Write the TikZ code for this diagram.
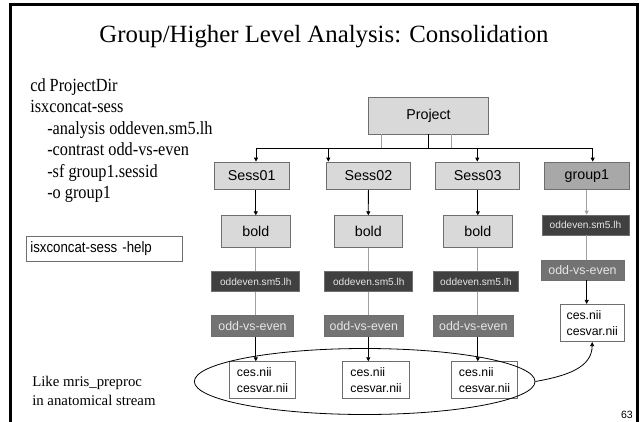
\documentclass[tikz,border=0pt]{standalone}
\usepackage{fontspec}
\setmainfont{Liberation Serif}
\setsansfont{Liberation Sans}
\newfontfamily\narrowserif[FakeStretch=0.88]{Liberation Serif}
\newfontfamily\narrowsans[FakeStretch=0.88]{Liberation Sans}
\usetikzlibrary{arrows.meta,calc,shapes.geometric}
\definecolor{boxlight}{HTML}{D9D9D9}
\definecolor{boxmid}{HTML}{A8A8A8}
\definecolor{boxdark}{HTML}{404040}
\definecolor{boxslate}{HTML}{737373}
\definecolor{edgegray}{HTML}{6E6E6E}
\definecolor{linkgray}{HTML}{A0A0A0}
\definecolor{labellight}{HTML}{E6E6E6}
\begin{document}
\begin{tikzpicture}[x=0.75pt,y=-0.75pt,
  box/.style={draw=edgegray, line width=0.6pt, inner sep=0pt, font=\sffamily},
  lightbox/.style={box, fill=boxlight, font=\sffamily\fontsize{10.7}{12}\selectfont},
  groupbox/.style={box, fill=boxmid, font=\sffamily\fontsize{10.7}{12}\selectfont},
  anabox/.style={box, fill=boxdark, text=labellight, minimum height=15pt,
    font=\sffamily\fontsize{7.6}{9}\selectfont},
  conbox/.style={box, fill=boxslate, text=labellight,
    font=\sffamily\fontsize{9.3}{11}\selectfont},
  filebox/.style={box, fill=white, align=left,
    font=\sffamily\fontsize{9.2}{12}\selectfont},
  cmdline/.style={anchor=base west, inner sep=0pt, font=\narrowserif\fontsize{13.9}{16}\selectfont},
  note/.style={anchor=base west, inner sep=0pt, font=\fontsize{11.1}{13}\selectfont},
  arr/.style={-{Triangle[length=3pt,width=3pt]}, line width=0.6pt, black},
  garr/.style={-{Triangle[length=3pt,width=3pt]}, line width=0.6pt, linkgray},
  link/.style={line width=0.6pt, black},
  glink/.style={line width=0.6pt, linkgray}
]
\useasboundingbox (0,0) rectangle (642,421);

% slide frame, open at the bottom
\draw[line width=2.25pt] (10.5,425) -- (10.5,4.5) -- (637.5,4.5) -- (637.5,425);

% title
\node[anchor=base, inner sep=0pt, font=\fontsize{18.6}{22}\selectfont] (title) at (324,42)
  {Group/Higher Level Analysis: Consolidation};

% command listing
\node[cmdline] (c1) at (30,91) {cd ProjectDir};
\node[cmdline] (c2) at (30,112.5) {isxconcat-sess};
\node[cmdline] (c3) at (47,134) {-analysis oddeven.sm5.lh};
\node[cmdline] (c4) at (47,155.5) {-contrast odd-vs-even};
\node[cmdline] (c5) at (47,177) {-sf group1.sessid};
\node[cmdline] (c6) at (47,198.5) {-o group1};

\node[box, fill=white, anchor=west, text width=111pt, inner xsep=3pt,
  minimum height=18.8pt, align=left,
  font=\narrowsans\fontsize{11.3}{12}\selectfont] (help) at (26,248.5) {isxconcat-sess -help};

\node[note] (n1) at (32,386) {Like mris\_preproc};
\node[note] (n2) at (32,405) {in anatomical stream};

\node[anchor=base east, inner sep=0pt, font=\sffamily\fontsize{7.9}{9}\selectfont] (pg) at (633,418) {63};

% top of the tree
\node[lightbox, minimum width=90.3pt, minimum height=27.5pt] (proj) at (428.5,115.7) {Project};

\node[lightbox, minimum width=56.5pt, minimum height=20.5pt] (s1) at (251.7,175.7) {Sess01};
\node[lightbox, minimum width=63pt, minimum height=20.5pt] (s2) at (368.4,175.7) {Sess02};
\node[lightbox, minimum width=63pt, minimum height=20.5pt] (s3) at (477.7,175.7) {Sess03};
\node[groupbox, minimum width=63.2pt, minimum height=20.5pt] (g1) at (586.9,175.7) {group1};

% session columns
\node[lightbox, minimum width=51.2pt, minimum height=23.7pt] (b1) at (255.8,231.5) {bold};
\node[lightbox, minimum width=51.2pt, minimum height=23.7pt] (b2) at (368.3,231.5) {bold};
\node[lightbox, minimum width=51.2pt, minimum height=23.7pt] (b3) at (477.8,231.5) {bold};

\node[anabox, minimum width=66pt] (a1) at (255.8,281.7) {oddeven.sm5.lh};
\node[anabox, minimum width=66pt] (a2) at (368.8,281.7) {oddeven.sm5.lh};
\node[anabox, minimum width=64pt] (a3) at (476,281.7) {oddeven.sm5.lh};

\node[conbox, minimum width=61pt, minimum height=16.3pt] (v1) at (252.5,325.8) {odd-vs-even};
\node[conbox, minimum width=59pt, minimum height=16.3pt] (v2) at (363.8,325.8) {odd-vs-even};
\node[conbox, minimum width=60pt, minimum height=16.3pt] (v3) at (473.3,325.8) {odd-vs-even};

\node[filebox, minimum width=49.5pt, minimum height=27.5pt] (f1) at (262.5,380) {ces.nii\\cesvar.nii};
\node[filebox, minimum width=50pt, minimum height=27.5pt] (f2) at (376,380) {ces.nii\\cesvar.nii};
\node[filebox, minimum width=49.5pt, minimum height=27.5pt] (f3) at (484.5,380) {ces.nii\\cesvar.nii};

% group column
\node[anabox, minimum width=65.3pt] (ga) at (585.5,225) {oddeven.sm5.lh};
\node[conbox, minimum width=62.3pt, minimum height=15pt] (gv) at (582.5,270) {odd-vs-even};
\node[filebox, minimum width=48.2pt, minimum height=28pt] (gf) at (592.2,323) {ces.nii\\cesvar.nii};

% ellipse gathering the session outputs
\node[draw, line width=0.6pt, ellipse, inner sep=0pt, minimum width=255.5pt,
  minimum height=49.5pt] (gather) at (364.7,381.5) {};

% Project fan-out
\coordinate (bus1) at (256,148);
\coordinate (bus2) at (328.3,148);
\coordinate (bus3) at (477.3,148);
\coordinate (bus4) at (592.7,148);
\draw[link] (proj.south) -- (proj.south |- bus1);
\draw[glink] ($(proj.south west)+(13.4,0)$) -- ($(proj.south west)+(13.4,14.3)$);
\draw[glink] ($(proj.south west)+(83.4,0)$) -- ($(proj.south west)+(83.4,14.3)$);
\draw[link] (bus1) -- (bus4);
\draw[arr] (bus1) -- (bus1 |- s1.north);
\draw[arr] (bus2) -- (bus2 |- s2.north);
\draw[arr] (bus3) -- (bus3 |- s3.north);
\draw[arr] (bus4) -- (bus4 |- g1.north);

% session chains
\draw[arr] (b1.north |- s1.south) -- (b1.north);
\draw[arr] (s2.south) -- (b2.north);
\draw[arr] (b3.north |- s3.south) -- (b3.north);
\draw[glink] (b1.south) -- (b1.south |- a1.north);
\draw[glink] (b2.south) -- (b2.south |- a2.north);
\draw[glink] (b3.south) -- (b3.south |- a3.north);
\draw[glink] (b1.south |- a1.south) -- (b1.south |- v1.north);
\draw[glink] (b2.south |- a2.south) -- (b2.south |- v2.north);
\draw[glink] (b3.south |- a3.south) -- (b3.south |- v3.north);
\draw[arr] (b1.south |- v1.south) -- (b1.south |- f1.north);
\draw[arr] (b2.south |- v2.south) -- (b2.south |- f2.north);
\draw[arr] (b3.south |- v3.south) -- (b3.south |- f3.north);

% group chain
\coordinate (gx) at (586.7,0);
\draw[garr] (gx |- g1.south) -- (gx |- ga.north);
\draw[glink] (gx |- ga.south) -- (gx |- gv.north);
\draw[arr] (gx |- gv.south) -- (gx |- gf.north);
\draw[arr] (gather.east) .. controls (566,376) and (592,368) .. (gf.south);
\end{tikzpicture}
\end{document}
